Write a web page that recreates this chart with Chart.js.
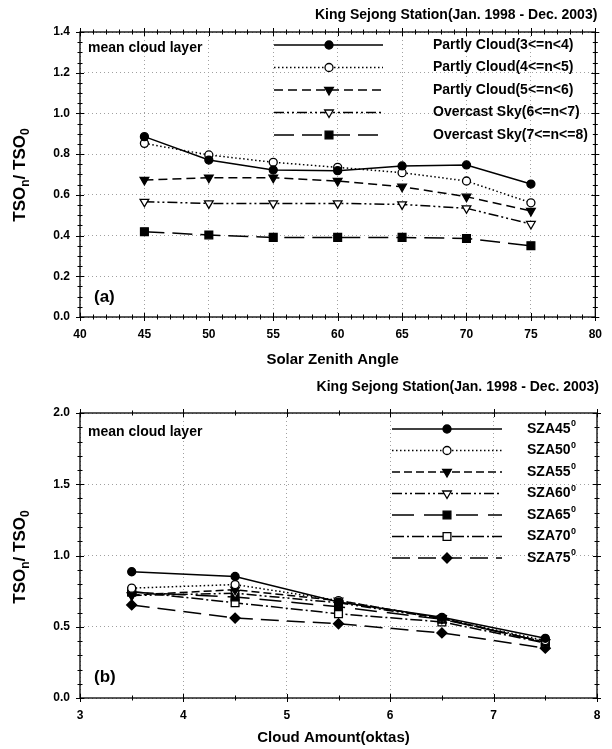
<!DOCTYPE html>
<html>
<head>
<meta charset="utf-8">
<script src="https://cdn.jsdelivr.net/npm/chart.js"></script>
<style>
  html, body { margin: 0; padding: 0; background: #fff; }
  canvas { display: block; }
</style>
</head>
<body>
<canvas id="chartA" width="612" height="372"></canvas>
<canvas id="chartB" width="612" height="377"></canvas>
<script>
// --- Data: normalized TSO ratio by solar zenith angle, one array per cloud class ---
const zenithAngles = [45, 50, 55, 60, 65, 70, 75];
const partly34   = [0.886, 0.771, 0.722, 0.719, 0.742, 0.747, 0.653];
const partly45   = [0.853, 0.796, 0.760, 0.735, 0.709, 0.668, 0.561];
const partly56   = [0.673, 0.684, 0.684, 0.668, 0.640, 0.591, 0.521];
const overcast67 = [0.566, 0.558, 0.558, 0.558, 0.553, 0.534, 0.457];
const overcast78 = [0.419, 0.403, 0.391, 0.391, 0.391, 0.386, 0.350];
const cloudClassLabels = [
    'Partly Cloud(3<=n<4)', 'Partly Cloud(4<=n<5)', 'Partly Cloud(5<=n<6)',
    'Overcast Sky(6<=n<7)', 'Overcast Sky(7<=n<=8)'
];

// Panel (b) regroups the same numbers: x = class midpoint, one line per angle
const cloudAmounts = [3.5, 4.5, 5.5, 6.5, 7.5];
const szaLabels = ['SZA45', 'SZA50', 'SZA55', 'SZA60', 'SZA65', 'SZA70', 'SZA75'];

const stationTitle = 'King Sejong Station(Jan. 1998 - Dec. 2003)';
const FONT = '"Liberation Sans", Arial, Helvetica, sans-serif';

// line / marker styles
const styleA = [
    { dash: [], point: 'circle', fill: true, r: 4 },
    { dash: [1.5, 2.5], point: 'circle', fill: false, r: 4 },
    { dash: [9, 5], point: 'triangle', fill: true, r: 5 },
    { dash: [10, 3, 2, 3, 2, 3], point: 'triangle', fill: false, r: 5 },
    { dash: [20, 8], point: 'rect', fill: true, r: 5.5 }
];
const styleB = [
    { dash: [], point: 'circle', fill: true, r: 4 },
    { dash: [1.5, 2.5], point: 'circle', fill: false, r: 4 },
    { dash: [8, 4], point: 'triangle', fill: true, r: 5 },
    { dash: [10, 3, 2, 3, 2, 3], point: 'triangle', fill: false, r: 5 },
    { dash: [22, 10], point: 'rect', fill: true, r: 5.5 },
    { dash: [12, 3, 2, 3], point: 'rect', fill: false, r: 5.5 },
    { dash: [18, 8], point: 'rectRot', fill: true, r: 5 }
];

function makeDataset(label, xs, ys, st) {
    return {
        label: label,
        data: xs.map((x, i) => ({ x: x, y: ys[i] })),
        borderColor: '#000',
        borderWidth: 1.5,
        borderDash: st.dash,
        pointStyle: st.point,
        pointRotation: st.point === 'triangle' ? 180 : 0,
        pointRadius: st.r,
        pointBackgroundColor: st.fill ? '#000' : '#fff',
        pointBorderColor: '#000',
        pointBorderWidth: 1.3,
        tension: 0
    };
}

const seriesA = [partly34, partly45, partly56, overcast67, overcast78];
const datasetsA = seriesA.map((s, i) => makeDataset(cloudClassLabels[i], zenithAngles, s, styleA[i]));
const datasetsB = zenithAngles.map((a, j) =>
    makeDataset(szaLabels[j], cloudAmounts, seriesA.map(s => s[j]), styleB[j]));

// --- Drawing helpers ---
function marker(ctx, st, x, y) {
    ctx.save();
    ctx.setLineDash([]);
    ctx.fillStyle = st.fill ? '#000' : '#fff';
    ctx.strokeStyle = '#000';
    ctx.lineWidth = 1.3;
    if (Chart.helpers && Chart.helpers.drawPoint) {
        Chart.helpers.drawPoint(ctx, {
            pointStyle: st.point, radius: st.r, borderWidth: 1.3,
            rotation: st.point === 'triangle' ? 180 : 0
        }, x, y);
    } else {
        ctx.beginPath(); ctx.arc(x, y, st.r, 0, Math.PI * 2); ctx.fill(); ctx.stroke();
    }
    ctx.restore();
}

function drawYTitle(ctx, cx, cy) {
    const big = 'bold 17px ' + FONT, small = 'bold 12px ' + FONT;
    const parts = [['TSO', big, 0], ['n', small, 4], ['/ TSO', big, 0], ['0', small, 4]];
    ctx.save();
    ctx.translate(cx, cy);
    ctx.rotate(-Math.PI / 2);
    let total = 0;
    parts.forEach(p => { ctx.font = p[1]; total += ctx.measureText(p[0]).width; });
    let x = -total / 2;
    ctx.fillStyle = '#000';
    ctx.textBaseline = 'alphabetic';
    parts.forEach(p => {
        ctx.font = p[1];
        ctx.fillText(p[0], x, 6 + p[2]);
        x += ctx.measureText(p[0]).width;
    });
    ctx.restore();
}

function drawFrame(chart, xMajor, xMinor, yMajor, yMinor) {
    const { ctx, chartArea: a, scales: { x, y } } = chart;
    ctx.save();
    ctx.setLineDash([]);
    ctx.strokeStyle = '#000';
    ctx.lineWidth = 1.3;
    ctx.strokeRect(a.left, a.top, a.right - a.left, a.bottom - a.top);
    ctx.lineWidth = 1;
    ctx.beginPath();
    const nx = Math.round((x.max - x.min) / xMinor);
    for (let i = 0; i <= nx; i++) {
        const v = x.min + i * xMinor;
        const major = Math.abs(v / xMajor - Math.round(v / xMajor)) < 1e-6;
        const len = major ? 4 : 2.5;
        const px = Math.round(x.getPixelForValue(v)) + 0.5;
        ctx.moveTo(px, a.bottom - len); ctx.lineTo(px, a.bottom + len);
        ctx.moveTo(px, a.top - len); ctx.lineTo(px, a.top + len);
    }
    const ny = Math.round((y.max - y.min) / yMinor);
    for (let i = 0; i <= ny; i++) {
        const v = y.min + i * yMinor;
        const major = Math.abs(v / yMajor - Math.round(v / yMajor)) < 1e-6;
        const len = major ? 4 : 2.5;
        const py = Math.round(y.getPixelForValue(v)) + 0.5;
        ctx.moveTo(a.left - len, py); ctx.lineTo(a.left + len, py);
        ctx.moveTo(a.right - len, py); ctx.lineTo(a.right + len, py);
    }
    ctx.stroke();
    ctx.restore();
}

function drawLegend(ctx, labels, styles, L, superZero) {
    ctx.save();
    labels.forEach((lab, i) => {
        const y = L.top + i * L.gap;
        const st = styles[i];
        ctx.setLineDash(st.dash);
        ctx.strokeStyle = '#000';
        ctx.lineWidth = 1.5;
        ctx.beginPath();
        ctx.moveTo(L.x0, y); ctx.lineTo(L.x1, y);
        ctx.stroke();
        marker(ctx, st, L.xm, y);
        ctx.setLineDash([]);
        ctx.fillStyle = '#000';
        ctx.font = 'bold 14px ' + FONT;
        ctx.textBaseline = 'middle';
        ctx.textAlign = 'left';
        ctx.fillText(lab, L.tx, y);
        if (superZero) {
            const w = ctx.measureText(lab).width;
            ctx.font = 'bold 9px ' + FONT;
            ctx.fillText('0', L.tx + w + 0.5, y - 5);
        }
    });
    ctx.restore();
}

// Titles, frame, tick marks, axis titles and legend for one panel
const decorPlugin = {
    id: 'decor',
    afterDraw(chart) {
        const d = chart.options.plugins.decor;
        const { ctx, chartArea: a } = chart;
        drawFrame(chart, d.xMajor, d.xMinor, d.yMajor, d.yMinor);
        ctx.save();
        ctx.fillStyle = '#000';
        ctx.textBaseline = 'middle';
        ctx.font = 'bold 14px ' + FONT;
        ctx.textAlign = 'right';
        ctx.fillText(stationTitle, a.right + 2, d.titleY);
        ctx.textAlign = 'left';
        ctx.fillText('mean cloud layer', 88, d.noteY);
        ctx.font = 'bold 17px ' + FONT;
        ctx.fillText(d.tag, 94, d.tagY);
        ctx.font = 'bold 15px ' + FONT;
        ctx.textAlign = 'center';
        ctx.fillText(d.xTitle, (a.left + a.right) / 2 - 5, d.xTitleY);
        ctx.restore();
        drawYTitle(ctx, 19, d.yTitleY);
        drawLegend(ctx, d.labels, d.styles, d.legend, d.superZero);
    }
};

function axisOptions(min, max, step, fit, fmt) {
    return {
        type: 'linear', min: min, max: max,
        afterFit: fit,
        grid: { color: '#a0a0a0', lineWidth: 1, drawTicks: false },
        border: { display: false, dash: [1, 3] },
        ticks: {
            stepSize: step, padding: 10, color: '#000',
            font: { family: FONT, size: 12, weight: 'bold' },
            callback: fmt
        }
    };
}

function makeChart(id, datasets, sc, padTop, decor) {
    return new Chart(document.getElementById(id), {
        type: 'line',
        data: { datasets: datasets },
        options: {
            responsive: false,
            animation: false,
            events: [],
            layout: { padding: { left: 0, right: 15, top: padTop, bottom: 0 } },
            scales: {
                x: axisOptions(sc.xmin, sc.xmax, sc.xstep, s => { s.height = sc.xh; }, v => String(v)),
                y: axisOptions(sc.ymin, sc.ymax, sc.ystep, s => { s.width = 80; }, v => v.toFixed(1))
            },
            plugins: { legend: { display: false }, tooltip: { enabled: false }, decor: decor }
        },
        plugins: [decorPlugin]
    });
}

makeChart('chartA', datasetsA,
    { xmin: 40, xmax: 80, xstep: 5, ymin: 0, ymax: 1.4, ystep: 0.2, xh: 55 }, 32,
    {
        xMajor: 5, xMinor: 1, yMajor: 0.2, yMinor: 0.05,
        titleY: 15, noteY: 48, tag: '(a)', tagY: 297,
        xTitle: 'Solar Zenith Angle', xTitleY: 360, yTitleY: 175,
        labels: cloudClassLabels, styles: styleA, superZero: false,
        legend: { top: 45, gap: 22.5, x0: 274, x1: 383, xm: 329, tx: 433 }
    });

makeChart('chartB', datasetsB,
    { xmin: 3, xmax: 8, xstep: 1, ymin: 0, ymax: 2, ystep: 0.5, xh: 51 }, 41,
    {
        xMajor: 1, xMinor: 0.5, yMajor: 0.5, yMinor: 0.1,
        titleY: 15, noteY: 60, tag: '(b)', tagY: 305,
        xTitle: 'Cloud Amount(oktas)', xTitleY: 366, yTitleY: 185,
        labels: szaLabels, styles: styleB, superZero: true,
        legend: { top: 57, gap: 21.5, x0: 392, x1: 502, xm: 447, tx: 527 }
    });
</script>
</body>
</html>
